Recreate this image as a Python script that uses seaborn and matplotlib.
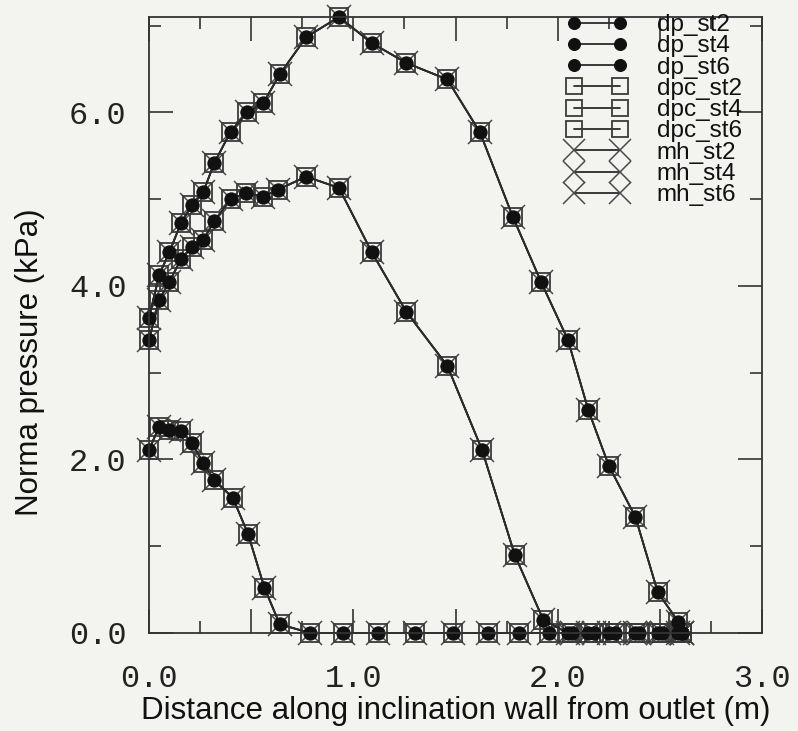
import matplotlib
matplotlib.use("Agg")
import matplotlib.pyplot as plt
import seaborn as sns
import numpy as np
import pandas as pd
from matplotlib.ticker import MultipleLocator, FuncFormatter

# ---- data ----
x_st2 = [0.0, 0.05, 0.10, 0.157, 0.21, 0.265, 0.32, 0.41, 0.485, 0.565, 0.64, 0.79, 0.95,
         1.12, 1.30, 1.49, 1.66, 1.81, 1.96, 2.07, 2.18, 2.28, 2.40, 2.51, 2.61]
y_st2 = [2.11, 2.38, 2.34, 2.33, 2.19, 1.96, 1.76, 1.56, 1.14, 0.52, 0.10, 0.0, 0.0,
         0.0, 0.0, 0.0, 0.0, 0.0, 0.0, 0.0, 0.0, 0.0, 0.0, 0.0, 0.0]

x_st4 = [0.0, 0.05, 0.10, 0.157, 0.21, 0.265, 0.32, 0.40, 0.475, 0.56, 0.63, 0.77, 0.93,
         1.09, 1.26, 1.46, 1.63, 1.79, 1.93, 2.05, 2.15, 2.25, 2.38, 2.49, 2.59, 2.61]
y_st4 = [3.38, 3.84, 4.05, 4.31, 4.45, 4.53, 4.75, 5.00, 5.07, 5.03, 5.11, 5.26, 5.13,
         4.39, 3.70, 3.08, 2.11, 0.90, 0.15, 0.0, 0.0, 0.0, 0.0, 0.0, 0.0, 0.0]

x_st6 = [0.0, 0.05, 0.10, 0.157, 0.21, 0.265, 0.32, 0.40, 0.48, 0.56, 0.64, 0.77, 0.93,
         1.09, 1.26, 1.46, 1.62, 1.78, 1.92, 2.05, 2.15, 2.25, 2.38, 2.49, 2.59, 2.61]
y_st6 = [3.63, 4.13, 4.39, 4.73, 4.93, 5.08, 5.42, 5.78, 6.00, 6.11, 6.44, 6.87, 7.10,
         6.80, 6.57, 6.38, 5.77, 4.80, 4.04, 3.38, 2.57, 1.93, 1.34, 0.47, 0.13, 0.0]

methods = ["dp", "dpc", "mh"]
stations = ["st2", "st4", "st6"]
series_x = {"st2": x_st2, "st4": x_st4, "st6": x_st6}
series_y = {"st2": y_st2, "st4": y_st4, "st6": y_st6}

x_ticks_labelled = [0.0, 1.0, 2.0, 3.0]
y_ticks_labelled = [0.0, 2.0, 4.0, 6.0]

# ---- style ----
sns.set_theme(style="ticks")
plt.rcParams["font.family"] = ["Liberation Sans", "DejaVu Sans"]
bg = "#f3f3f0"

fig = plt.figure(figsize=(7.98, 7.31), dpi=100, facecolor=bg)
ax = fig.add_axes([149/798, 1-633/731, (762-149)/798, (633-17)/731])
ax.set_facecolor(bg)

line_col = "#2b2b2b"
styles = {
    "mh":  dict(marker="x", markersize=17, markeredgewidth=1.1, markeredgecolor="#4a4a4a",
                markerfacecolor="none"),
    "dpc": dict(marker="s", markersize=13.5, markeredgewidth=1.3, markeredgecolor="#3a3a3a",
                markerfacecolor="none"),
    "dp":  dict(marker="o", markersize=9.5, markeredgewidth=0.8, markeredgecolor="#111111",
                markerfacecolor="#111111"),
}

for m in ["mh", "dpc", "dp"]:
    for s in stations:
        df = pd.DataFrame({"x": series_x[s], "y": series_y[s]})
        sns.lineplot(data=df, x="x", y="y", ax=ax, color=line_col, linewidth=1.3,
                     estimator=None, sort=False, clip_on=False,
                     label=f"{m}_{s}", **styles[m])

h, l = ax.get_legend_handles_labels()
hmap = dict(zip(l, h))
order = [f"{m}_{s}" for m in methods for s in stations]
leg = ax.legend([hmap[k] for k in order], order, loc="upper left",
                bbox_to_anchor=((567-149)/613, (633-14)/616),
                frameon=False, numpoints=2, fontsize=17.5, labelspacing=-0.03,
                handlelength=2.5, handletextpad=1.2, borderpad=0, borderaxespad=0,
                markerscale=0.9)
for t in leg.get_texts():
    t.set_color("#111111")

# ---- axes ----
ax.set_xlim(0, 3.0)
ax.set_ylim(0, 7.1)
ax.xaxis.set_major_locator(MultipleLocator(0.5))
ax.xaxis.set_minor_locator(MultipleLocator(0.25))
ax.yaxis.set_major_locator(MultipleLocator(2.0))
ax.yaxis.set_minor_locator(MultipleLocator(1.0))
ax.xaxis.set_major_formatter(FuncFormatter(
    lambda v, p: f"{v:.1f}" if any(abs(v - t) < 1e-6 for t in x_ticks_labelled) else ""))
ax.yaxis.set_major_formatter(FuncFormatter(
    lambda v, p: f"{v:.1f}" if any(abs(v - t) < 1e-6 for t in y_ticks_labelled) else ""))

ax.tick_params(which="both", direction="in", top=True, right=True, color="#333333", width=1.2)
ax.tick_params(which="major", length=17)
ax.tick_params(which="minor", length=8.5)
ax.tick_params(axis="x", which="major", pad=22)
ax.tick_params(axis="y", which="major", pad=16)
for lab in ax.get_xticklabels() + ax.get_yticklabels():
    lab.set_fontfamily(["Liberation Mono", "DejaVu Sans Mono"])
    lab.set_fontsize(23)
    lab.set_color("#222222")
for sp in ax.spines.values():
    sp.set_color("#333333")
    sp.set_linewidth(1.3)

ax.set_xlabel("Distance along inclination wall from outlet (m)", fontsize=22.5, color="#111111")
ax.set_ylabel("Norma pressure (kPa)", fontsize=22.5, color="#111111")
ax.xaxis.set_label_coords(0.5, -0.103)
ax.yaxis.set_label_coords(-0.17, 0.44)

fig.savefig("out.png", dpi=100, facecolor=bg)
